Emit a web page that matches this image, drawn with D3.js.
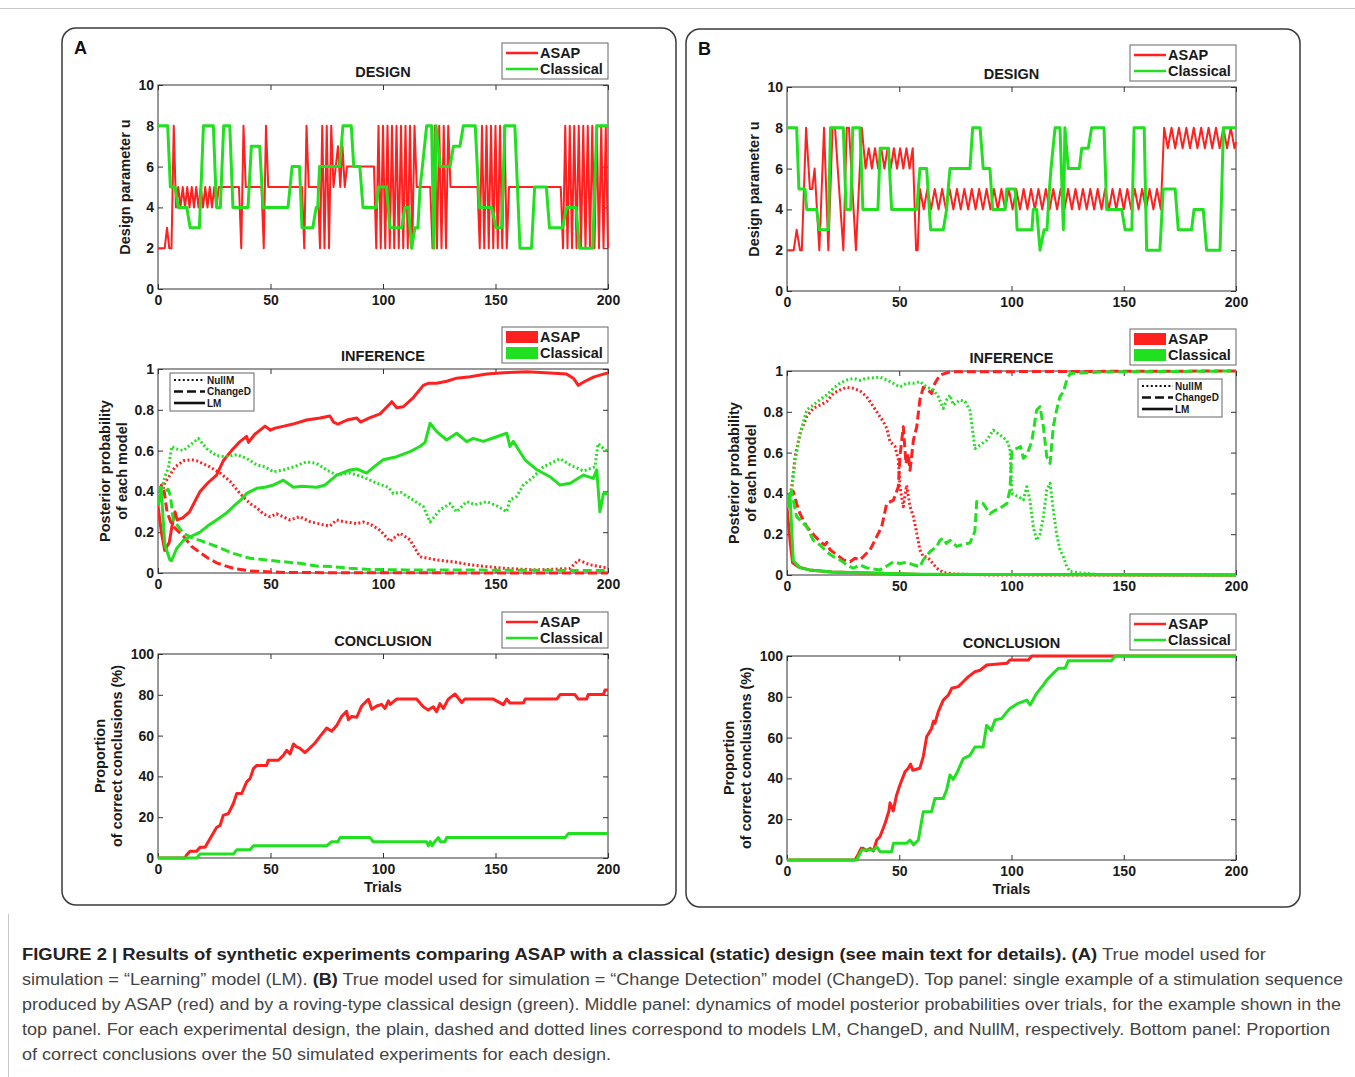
<!DOCTYPE html>
<html>
<head>
<meta charset="utf-8">
<script src="https://cdn.jsdelivr.net/npm/d3@7/dist/d3.min.js"></script>
<style>
  body { margin: 0; background: #fff; }
</style>
</head>
<body>
<script>
// ---------- data ----------
const trialTicks = [0, 50, 100, 150, 200];
const designTicks = [0, 2, 4, 6, 8, 10];
const inferTicks = [0, 0.2, 0.4, 0.6, 0.8, 1];
const conclTicks = [0, 20, 40, 60, 80, 100];
const seriesNames = ['ASAP', 'Classical'];
const modelNames = ['NullM', 'ChangeD', 'LM'];

// design parameter u per trial, [trial, u]
const designA_asap = [[0,2],[3,2],[4,3],[5,2],[6,2],[7,8],[8,4],[9,5],[10,4],[11,5],[12,4],[13,5],[14,4],[15,5],[16,4],[17,5],[18,4],[19,5],[20,4],[21,5],[22,4],[23,5],[24,4],[25,5],[26,4],[27,5],[36,5],[37,2],[38,8],[39,5],[46,5],[47,2],[48,8],[49,5],[64,5],[65,2],[66,8],[67,5],[71,5],[72,2],[73,8],[74,2],[75,8],[76,2],[77,8],[78,5],[79,6],[80,7],[81,5],[82,7],[83,5],[84,6],[96,6],
  [97,2],[98,8],[99,2],[100,8],[101,2],[102,8],[103,2],[104,8],[105,2],[106,8],[107,2],[108,8],[109,2],[110,8],[111,2],[112,8],[113,2],[114,8],[115,5],[121,5],
  [122,2],[123,8],[124,2],[125,8],[126,2],[127,8],[128,2],[129,8],[130,5],[142,5],
  [143,2],[144,8],[145,2],[146,8],[147,2],[148,8],[149,2],[150,8],[151,2],[152,8],[153,2],[154,8],[155,2],[156,5],[179,5],
  [180,2],[181,8],[182,2],[183,8],[184,2],[185,8],[186,2],[187,8],[188,2],[189,8],[190,2],[191,8],[192,2],[193,8],[194,2],[195,8],[196,2],[197,8],[198,2],[199,8],[200,2]];
const designA_classical = [[0,8],[4.3,8],[5.5,5],[7.6,5],[9,4],[12.8,4],[14.3,3],[18.4,3],[20.2,8],[24.6,8],[26,4],[27.7,4],[29.2,8],[31.9,8],[33.3,4],[40,4],[41.5,7],[45.2,7],[46.7,4],[57.8,4],[59.6,6],[62.9,6],[64,3],[68.8,3],[70.3,4],[71,4],[71.8,6],[80.7,6],[82.2,8],[85.9,8],[87,6],[89.7,6],[91.1,4],[97,4],[98,5],[101.6,5],[103,3],[108.3,3],[109.8,4],[111.3,4],[112.7,2],[114.2,3],[115.5,3],[116.5,5],[117.5,6],[119.4,8],[121.6,8],[122.6,2],[123.6,8],[125.4,6],[129.8,6],[131.3,7],[134.2,7],[135.7,8],[141,8],[142.8,4],[148.3,4],[150.2,3],[152.7,3],[154.2,8],[158.6,8],[160.9,2],[166,2],[167.4,5],[172.6,5],[174,3],[179.8,3],[181.6,4],[185.8,4],[187.3,2],[193.2,2],[195,8],[200,8]];
const designB_asap = [[0,2],[3,2],[4.3,3],[5.8,2],[6.6,2],[8.5,8],[10.2,5],[11.2,5],[12.3,6],[14.4,2],[16.5,8],[18.4,2],[20.3,8],[21.4,8],[22.6,6],[25.1,2],[26.6,8],[27.6,8],[30.7,2],[33.3,8],
  [35,6],[36.4,7],[37.8,6],[39.2,7],[40.6,6],[42,7],[43.4,6],[44.8,7],[46.2,6],[47.6,7],[49,6],[50.4,7],[51.8,6],[53.2,7],[54.6,6],[56,7],[57.5,2],[58.2,2],
  [59.2,5],[60.9,4],[62.5,5],[64.2,4],[65.8,5],[67.5,4],[69.1,5],[70.8,4],[72.4,5],[74.1,4],[75.7,5],[77.4,4],[79,5],[80.7,4],[82.3,5],[84,4],[85.6,5],[87.3,4],[88.9,5],[90.6,4],[92.2,5],[93.9,4],[95.5,5],[97.2,4],[98.8,5],[100.5,4],[102.1,5],[103.8,4],[105.4,5],[107.1,4],[108.7,5],[110.4,4],[112,5],[113.7,4],[115.3,5],[117,4],[118.6,5],[120.3,4],[121.9,5],[123.6,4],[125.2,5],[126.9,4],[128.5,5],[130.2,4],[131.8,5],[133.5,4],[135.1,5],[136.8,4],[138.4,5],[140.1,4],[141.7,5],[143.4,4],[145,5],[146.7,4],[148.3,5],[150,4],[151.6,5],[153.3,4],[154.9,5],[156.6,4],[158.2,5],[159.9,4],[161.5,5],[163.2,4],[164.8,5],[166.5,4],
  [168,8],[169.6,7],[171.3,8],[172.9,7],[174.6,8],[176.2,7],[177.9,8],[179.5,7],[181.2,8],[182.8,7],[184.5,8],[186.1,7],[187.8,8],[189.4,7],[191.1,8],[192.7,7],[194.4,8],[196,7],[197.7,8],[199.3,7],[200,7.3]];
const designB_classical = [[0,8],[4.3,8],[5.3,5],[8,5],[8.8,4],[13.2,4],[14.4,3],[18.4,3],[19.4,8],[25.1,8],[26.3,4],[28.4,4],[29.3,8],[32.5,8],[33.8,4],[40.5,4],[41.5,7],[45.2,7],[46.6,4],[57.8,4],[59.2,6],[62.2,6],[64,3],[69.6,3],[71.1,4],[71.8,5],[72.6,6],[81.5,6],[82.7,8],[86,8],[87.4,6],[90.4,6],[91.6,4],[97.1,4],[97.9,5],[101.6,5],[102.5,3],[109.1,3],[109.7,4],[111.2,4],[112.7,2],[114.5,3],[115.8,3],[116.9,5],[117.6,6],[119.4,8],[121.6,8],[123.1,3],[123.8,8],[125.3,6],[130.2,6],[131.3,7],[134.2,7],[135.7,8],[141.2,8],[142.4,4],[149.1,4],[150.6,3],[153.6,3],[154.6,8],[159.1,8],[160.2,2],[166.1,2],[167.6,5],[172.9,5],[174.3,3],[180.2,3],[181.3,4],[185.4,4],[186.9,2],[192.9,2],[194.4,8],[200,8]];

// posterior probability of each model, [trial, p]
const inferA_asap_NullM = [[0,0.33],[3,0.44],[5.3,0.48],[7.6,0.52],[11.3,0.55],[15,0.555],[17.2,0.55],[23.1,0.52],[27.6,0.49],[32,0.45],[36.4,0.39],[40.9,0.34],[43.9,0.32],[46.8,0.29],[49.8,0.276],[52.7,0.29],[55.7,0.275],[58.7,0.26],[63,0.276],[67.5,0.252],[73.5,0.236],[76.4,0.23],[79.4,0.26],[82.4,0.252],[88.3,0.242],[91.3,0.25],[94.2,0.24],[98.7,0.21],[103.1,0.155],[107.6,0.195],[112,0.163],[116.4,0.08],[123.9,0.064],[131.3,0.055],[138.7,0.04],[153.6,0.023],[168.4,0.015],[183.2,0.022],[186.8,0.064],[192.1,0.04],[198,0.028],[200,0.025]];
const inferA_asap_ChangeD = [[0,0.33],[1.5,0.43],[2.5,0.42],[4,0.3],[6,0.24],[7.6,0.22],[11.3,0.18],[15,0.13],[18.7,0.1],[22,0.075],[26,0.05],[30,0.035],[33.5,0.023],[40.9,0.01],[55.7,0.003],[80,0.001],[200,0]];
const inferA_asap_LM = [[0,0.33],[1.5,0.2],[3,0.11],[5,0.15],[7,0.28],[7.6,0.3],[8.5,0.26],[11,0.27],[14,0.3],[18.7,0.4],[22,0.44],[26,0.48],[29,0.55],[32.7,0.6],[36,0.64],[39.4,0.67],[40.2,0.64],[43,0.68],[47.6,0.72],[50,0.7],[52,0.71],[56,0.72],[60,0.73],[66,0.75],[72,0.76],[76.4,0.77],[78,0.74],[80,0.73],[84,0.75],[88.3,0.76],[90,0.74],[94,0.76],[98.7,0.78],[103.1,0.83],[103.9,0.84],[106.1,0.81],[109,0.815],[113.5,0.86],[117.9,0.92],[120.1,0.93],[123.9,0.93],[128.3,0.94],[132.7,0.955],[138.7,0.962],[146.1,0.975],[153.6,0.982],[163.9,0.987],[174.2,0.98],[181.6,0.975],[184.6,0.955],[186.8,0.92],[189,0.935],[193.5,0.96],[197.9,0.975],[200,0.98]];
const inferA_classical_NullM = [[0,0.33],[3,0.47],[4.7,0.52],[6.1,0.62],[7.6,0.61],[11.3,0.6],[15.7,0.64],[17.9,0.66],[21.6,0.61],[26,0.575],[30,0.57],[35,0.58],[39.4,0.562],[43.9,0.53],[47.6,0.52],[51.3,0.496],[55.7,0.505],[60.2,0.52],[66,0.545],[70.5,0.537],[75,0.505],[79.4,0.48],[85.3,0.49],[91.3,0.47],[97.2,0.44],[102.4,0.42],[104.6,0.39],[108,0.395],[117.9,0.326],[120.9,0.25],[125.4,0.31],[129.8,0.34],[132.7,0.3],[137.2,0.35],[141,0.335],[146.1,0.35],[150.5,0.33],[155,0.3],[156.4,0.358],[159.4,0.375],[162.3,0.43],[166.8,0.47],[171.2,0.52],[178.7,0.56],[183.2,0.53],[189.1,0.5],[194.2,0.52],[195.6,0.635],[198,0.61],[200,0.595]];
const inferA_classical_ChangeD = [[0,0.33],[1,0.42],[3,0.4],[4.5,0.41],[5.5,0.38],[6.8,0.26],[11.3,0.195],[15.7,0.17],[18.7,0.16],[26,0.13],[33.5,0.096],[40.9,0.072],[48.3,0.064],[55.7,0.055],[63,0.048],[70.5,0.034],[77.9,0.031],[85.3,0.023],[92.7,0.018],[110,0.015],[150,0.014],[200,0.012]];
const inferA_classical_LM = [[0,0.33],[1.5,0.4],[3,0.14],[5.3,0.064],[6,0.06],[8.3,0.12],[11.3,0.16],[15.7,0.185],[18.7,0.2],[22,0.23],[26,0.26],[30,0.29],[33.5,0.326],[37,0.36],[39.4,0.39],[43.9,0.415],[47.6,0.42],[51,0.43],[55.7,0.455],[60.2,0.42],[64,0.425],[70.5,0.42],[74,0.43],[79.4,0.48],[85.3,0.505],[88.3,0.51],[92.7,0.49],[96,0.52],[100.1,0.555],[106.1,0.57],[112,0.595],[116.4,0.62],[118.7,0.64],[120.9,0.734],[123.9,0.693],[128.3,0.652],[132.7,0.685],[137.2,0.644],[140.1,0.66],[144.6,0.645],[150.5,0.668],[155,0.685],[156.4,0.62],[157.9,0.645],[163.1,0.555],[168.4,0.506],[174.2,0.472],[178.7,0.431],[183.2,0.44],[189.1,0.48],[193.5,0.464],[195,0.506],[196.4,0.3],[198,0.39],[200,0.39]];

const inferB_asap_NullM = [[0,0.33],[2.1,0.43],[3.6,0.58],[5.8,0.694],[8.8,0.776],[11.7,0.817],[14.7,0.833],[17.7,0.85],[20.6,0.89],[23.6,0.907],[26.6,0.92],[29.5,0.915],[32.5,0.903],[35.5,0.874],[38.5,0.825],[41.4,0.776],[42.9,0.752],[44.4,0.72],[45.9,0.654],[48.1,0.63],[49.6,0.564],[50.3,0.433],[51.8,0.335],[53.3,0.44],[54.8,0.335],[56.3,0.286],[57.8,0.205],[59.2,0.123],[60.7,0.09],[62.2,0.09],[63.7,0.074],[66.7,0.033],[69.6,0.012],[74.1,0.005],[90,0],[200,0]];
const inferB_asap_ChangeD = [[0,0.33],[1.5,0.4],[2.8,0.41],[4.3,0.35],[5.8,0.3],[8.8,0.237],[11.7,0.2],[14.7,0.163],[16.9,0.147],[17.7,0.16],[19.2,0.123],[22.1,0.1],[25.1,0.074],[28.1,0.065],[30.3,0.082],[32.5,0.074],[34.7,0.098],[37,0.123],[39.9,0.187],[42.2,0.237],[44.4,0.35],[47.4,0.367],[49.6,0.432],[50.3,0.58],[51.8,0.727],[53,0.546],[54,0.595],[54.8,0.513],[56.3,0.66],[57.8,0.727],[59.2,0.86],[60.7,0.92],[62.5,0.91],[64.4,0.89],[65.9,0.94],[68.1,0.98],[72.6,0.996],[200,1]];
const inferB_asap_LM = [[0,0.33],[1.5,0.15],[2.5,0.06],[5,0.04],[10,0.025],[20,0.015],[40,0.008],[60,0.003],[200,0]];
const inferB_classical_NullM = [[0,0.33],[2.1,0.42],[3.6,0.56],[5.8,0.69],[8.8,0.81],[11.7,0.833],[14.7,0.86],[17.7,0.882],[20.6,0.915],[23.6,0.94],[26.6,0.955],[29.5,0.964],[32.5,0.955],[35.5,0.964],[41.4,0.97],[45.9,0.948],[50.3,0.922],[53.3,0.94],[56.3,0.94],[59.2,0.948],[62.2,0.922],[65.2,0.907],[67.4,0.874],[69.6,0.817],[71.1,0.858],[72.6,0.882],[74.1,0.833],[77.1,0.858],[79.3,0.85],[81.5,0.808],[83.7,0.62],[86,0.637],[88.9,0.66],[91.9,0.71],[94.9,0.686],[97.9,0.66],[99.3,0.62],[100.2,0.4],[103,0.384],[105.3,0.368],[106.8,0.433],[108.2,0.368],[109.7,0.237],[111.2,0.17],[112.7,0.2],[114.2,0.286],[115.7,0.416],[117.2,0.45],[118.6,0.32],[120.1,0.2],[121.6,0.123],[123.1,0.09],[124.6,0.041],[126.1,0.017],[130.5,0.01],[140,0.002],[200,0]];
const inferB_classical_ChangeD = [[0,0.33],[2,0.41],[4.3,0.286],[5.8,0.27],[8.8,0.237],[11.7,0.17],[14.7,0.147],[17.7,0.114],[20.6,0.09],[23.6,0.074],[26.6,0.05],[29.5,0.033],[32.5,0.05],[35.5,0.035],[41.4,0.025],[44.4,0.044],[47.4,0.065],[50.3,0.056],[53.3,0.062],[56.3,0.05],[59.2,0.04],[60.7,0.074],[63.7,0.114],[66.7,0.14],[68.1,0.17],[69.6,0.18],[71,0.155],[72.6,0.17],[75.6,0.14],[78.5,0.15],[81.5,0.157],[83.7,0.214],[84.5,0.36],[87.4,0.35],[90.4,0.3],[92.7,0.317],[94.9,0.327],[97.9,0.35],[99.3,0.416],[100.2,0.613],[102.3,0.62],[104,0.63],[105.3,0.572],[106.8,0.588],[109,0.653],[111.2,0.808],[112.7,0.825],[114.2,0.727],[115.7,0.58],[117.2,0.547],[118.6,0.727],[120.1,0.808],[121.6,0.874],[123.1,0.898],[124.6,0.955],[126.1,0.988],[130.5,0.99],[140,0.995],[200,1]];
const inferB_classical_LM = [[0,0.33],[1.3,0.4],[2.8,0.07],[5.8,0.035],[10,0.025],[20,0.015],[40,0.008],[60,0.004],[200,0]];

// proportion of correct conclusions (%), [trial, %]
const conclA_asap = [[0,0],[12,0],[12.7,1.5],[14.2,3.3],[17.2,3.3],[18.7,5.3],[20.9,5.3],[23.1,9.4],[26.1,15.1],[27.6,16],[29,20.9],[31.3,21.8],[33.5,26.7],[35,31.6],[37.2,31.6],[39.4,37.3],[40.9,38.9],[42.4,43.8],[43.9,45.4],[48.3,45.4],[49,47.9],[53.5,47.9],[55.7,50.3],[57.2,52.8],[58.7,51],[60.2,55.9],[61.6,54.5],[63,53.9],[65.3,51.7],[67.5,53.9],[69.8,56.4],[72,59.6],[75,63.7],[77.2,62.1],[79.4,64.9],[81.6,69.4],[83.8,71.9],[84.6,67.8],[86.1,69.4],[88.3,69],[90.5,74.5],[92.7,77],[93.5,77.8],[95,72.9],[97.2,74.5],[99.4,75.3],[100.9,73.3],[102.4,77],[103.2,75.3],[106,77.9],[114.9,77.9],[117.9,74.1],[120.1,72.5],[122.4,74.1],[123.8,71.7],[125.3,75.7],[126.8,73.3],[129,77.9],[132,80.4],[135,76.2],[136.4,77.9],[149,77.9],[153.5,75.2],[155,77.9],[156.4,76],[162.4,76],[163.2,77.9],[177.2,77.9],[178.7,80.1],[185.3,80.1],[186.8,77.9],[190.5,77.9],[191.2,80.1],[197.9,80.1],[198.7,82.3],[200,82.3]];
const conclA_classical = [[0,0],[17.2,0],[18.7,2],[33.5,2],[35,4],[40.9,4],[42.4,6],[75,6],[77.2,8],[80,8],[80.9,10],[94.2,10],[95.7,8],[119.4,8],[120.1,6],[121,8],[121.8,6],[123,8],[124.6,10],[125.5,8],[127.5,8],[128.3,10],[180.9,10],[182.4,12],[200,12]];
const conclB_asap = [[0,0],[30.3,0],[31.8,3],[33,5.7],[34,5.7],[35.5,4.5],[37,5.7],[38.5,4.5],[40,9.8],[41.4,11.4],[43.7,18],[45.4,24],[45.9,28],[47.3,24],[48.8,31.8],[50.3,36.8],[52.6,43.3],[54,45],[55,47],[56,44],[59.2,45],[60.7,50.7],[62.2,60.4],[64.4,64.5],[65.2,68],[65.9,67],[67.4,72.7],[69.6,78.4],[71.9,80.9],[73.4,84.2],[76.3,85],[78.5,87.4],[80.8,89.9],[83.7,92.3],[86,93],[89,95.6],[97.9,96.4],[99.3,98],[107.5,98],[109,100],[200,100]];
const conclB_classical = [[0,0],[31,0],[33.3,4.9],[38.5,4.9],[40,6.5],[41.4,4.1],[46.6,4.1],[47.4,8.2],[53.3,8.2],[54.8,9.8],[56.3,7.4],[58.5,9.8],[60.7,23.7],[64.4,23.7],[65.9,30.2],[69.6,30.2],[71.1,34.3],[72.6,41.7],[74,39.5],[75.6,42.5],[78.5,49.7],[81.5,51.3],[83.7,55.4],[87.4,55.4],[88.9,66],[91,63.5],[92.7,68.7],[95.7,69.4],[97.5,72],[99.3,74.3],[103,76.8],[106.8,78.4],[108.3,76],[111.2,81.7],[114.2,85.8],[115.7,88.2],[118.6,91.5],[120.9,94],[123.9,94],[125.3,97.7],[144.6,97.7],[146.1,100],[200,100]];

const captionLines = [
  [['FIGURE 2 | Results of synthetic experiments comparing ASAP with a classical (static) design (see main text for details). (A)', true], [' True model used for', false]],
  [['simulation = \u201cLearning\u201d model (LM). ', false], ['(B)', true], [' True model used for simulation = \u201cChange Detection\u201d model (ChangeD). Top panel: single example of a stimulation sequence', false]],
  [['produced by ASAP (red) and by a roving-type classical design (green). Middle panel: dynamics of model posterior probabilities over trials, for the example shown in the', false]],
  [['top panel. For each experimental design, the plain, dashed and dotted lines correspond to models LM, ChangeD, and NullM, respectively. Bottom panel: Proportion', false]],
  [['of correct conclusions over the 50 simulated experiments for each design.', false]]
];

// ---------- layout ----------
const width = 1355, height = 1077;
const font = '"Liberation Sans", Arial, Helvetica, sans-serif';
const colors = { ASAP: '#ff2020', Classical: '#20e020' };
const dashes = { NullM: '2,2.4', ChangeD: '9,4', LM: null };

const panels = [
  { letter: 'A', frame: [62, 28, 614, 877], xr: [158, 608], design: [289, 85], infer: [573, 369], concl: [858, 654], modelLegend: 'left',
    design_s: [designA_asap, designA_classical],
    infer_s: [[inferA_asap_NullM, inferA_asap_ChangeD, inferA_asap_LM], [inferA_classical_NullM, inferA_classical_ChangeD, inferA_classical_LM]],
    concl_s: [conclA_asap, conclA_classical] },
  { letter: 'B', frame: [686, 29, 614, 878], xr: [787, 1236], design: [291, 87], infer: [575, 371], concl: [860, 656], modelLegend: 'right',
    design_s: [designB_asap, designB_classical],
    infer_s: [[inferB_asap_NullM, inferB_asap_ChangeD, inferB_asap_LM], [inferB_classical_NullM, inferB_classical_ChangeD, inferB_classical_LM]],
    concl_s: [conclB_asap, conclB_classical] }
];

const svg = d3.select('body').append('svg')
  .attr('width', width).attr('height', height)
  .style('font-family', font);

// page rules
svg.append('line').attr('x1', 0).attr('x2', width).attr('y1', 8.5).attr('y2', 8.5).attr('stroke', '#c8c8c8');
svg.append('line').attr('x1', 8.5).attr('x2', 8.5).attr('y1', 914).attr('y2', height).attr('stroke', '#c8c8c8');

function styleAxis(g) {
  g.select('.domain').remove();
  g.attr('font-family', font).attr('font-size', 14).attr('font-weight', 'bold');
  g.selectAll('.tick line').attr('stroke', '#333');
  g.selectAll('.tick text').attr('fill', '#1a1a1a');
}

let clipN = 0;
function makePlot(g, xr, yr, domain, ticks, fmt) {
  const x = d3.scaleLinear().domain([0, 200]).range(xr);
  const y = d3.scaleLinear().domain(domain).range(yr);
  g.append('rect').attr('x', xr[0]).attr('y', yr[1]).attr('width', xr[1] - xr[0]).attr('height', yr[0] - yr[1])
    .attr('fill', '#fff').attr('stroke', '#333').attr('stroke-width', 1);
  g.append('g').attr('transform', `translate(0,${yr[0]})`)
    .call(d3.axisBottom(x).tickValues(trialTicks).tickSizeInner(-5).tickSizeOuter(0).tickPadding(6)).call(styleAxis);
  g.append('g').attr('transform', `translate(0,${yr[1]})`)
    .call(d3.axisTop(x).tickValues(trialTicks).tickSizeInner(-5).tickSizeOuter(0).tickFormat('')).call(styleAxis);
  g.append('g').attr('transform', `translate(${xr[0]},0)`)
    .call(d3.axisLeft(y).tickValues(ticks).tickFormat(fmt).tickSizeInner(-5).tickSizeOuter(0).tickPadding(4)).call(styleAxis);
  g.append('g').attr('transform', `translate(${xr[1]},0)`)
    .call(d3.axisRight(y).tickValues(ticks).tickSizeInner(-5).tickSizeOuter(0).tickFormat('')).call(styleAxis);
  const id = 'clip' + (clipN++);
  svg.append('clipPath').attr('id', id).append('rect')
    .attr('x', xr[0]).attr('y', yr[1] - 2).attr('width', xr[1] - xr[0] + 1).attr('height', yr[0] - yr[1] + 4);
  const layer = g.append('g').attr('clip-path', `url(#${id})`);
  return { x, y, layer };
}

function drawLine(p, pts, color, w, dash) {
  p.layer.append('path').datum(pts)
    .attr('d', d3.line().x(d => p.x(d[0])).y(d => p.y(d[1])))
    .attr('fill', 'none').attr('stroke', color).attr('stroke-width', w)
    .attr('stroke-linejoin', 'round').attr('stroke-dasharray', dash);
}

function title(g, xr, top, txt) {
  g.append('text').attr('x', (xr[0] + xr[1]) / 2).attr('y', top - 8)
    .attr('text-anchor', 'middle').attr('font-size', 14.5).attr('font-weight', 'bold').attr('fill', '#1a1a1a').text(txt);
}

function ylabel(g, xr, yr, lines, offs) {
  const cy = (yr[0] + yr[1]) / 2;
  lines.forEach((t, i) => {
    g.append('text').attr('transform', `translate(${xr[0] + offs[i]},${cy}) rotate(-90)`)
      .attr('text-anchor', 'middle').attr('font-size', 14.5).attr('font-weight', 'bold').attr('fill', '#1a1a1a').text(t);
  });
}

function seriesLegend(g, xr, top, swatch) {
  const bx = xr[1] - 106, by = top - 42;
  g.append('rect').attr('x', bx).attr('y', by).attr('width', 106).attr('height', 36)
    .attr('fill', '#fff').attr('stroke', '#666');
  seriesNames.forEach((s, i) => {
    const cy = by + 10 + i * 16;
    if (swatch === 'line') {
      g.append('line').attr('x1', bx + 4).attr('x2', bx + 36).attr('y1', cy).attr('y2', cy)
        .attr('stroke', colors[s]).attr('stroke-width', 2.5);
    } else {
      g.append('rect').attr('x', bx + 4).attr('y', cy - 6).attr('width', 32).attr('height', 12).attr('fill', colors[s]);
    }
    g.append('text').attr('x', bx + 38).attr('y', cy + 5).attr('font-size', 14.5).attr('font-weight', 'bold')
      .attr('fill', '#1a1a1a').text(s);
  });
}

function modelLegend(g, xr, top, side) {
  const bx = side === 'left' ? xr[0] + 12 : xr[1] - 98, by = side === 'left' ? top + 4 : top + 8;
  g.append('rect').attr('x', bx).attr('y', by).attr('width', 84).attr('height', 38)
    .attr('fill', '#fff').attr('stroke', '#666');
  modelNames.forEach((m, i) => {
    const cy = by + 7 + i * 11.5;
    g.append('line').attr('x1', bx + 4).attr('x2', bx + 35).attr('y1', cy).attr('y2', cy)
      .attr('stroke', '#111').attr('stroke-width', m === 'NullM' ? 1.8 : 2.6).attr('stroke-dasharray', dashes[m]);
    g.append('text').attr('x', bx + 37).attr('y', cy + 3.5).attr('font-size', 10).attr('font-weight', 'bold')
      .attr('fill', '#1a1a1a').text(m);
  });
}

panels.forEach(P => {
  const g = svg.append('g');
  const [fx, fy, fw, fh] = P.frame;
  g.append('rect').attr('x', fx).attr('y', fy).attr('width', fw).attr('height', fh).attr('rx', 14)
    .attr('fill', 'none').attr('stroke', '#3a3a3a').attr('stroke-width', 1.5);
  g.append('text').attr('x', fx + 12).attr('y', fy + 26).attr('font-size', 18).attr('font-weight', 'bold')
    .attr('fill', '#111').text(P.letter);

  // DESIGN
  title(g, P.xr, P.design[1], 'DESIGN');
  const pd = makePlot(g, P.xr, P.design, [0, 10], designTicks, d3.format('d'));
  drawLine(pd, P.design_s[0], colors.ASAP, 2, null);
  drawLine(pd, P.design_s[1], colors.Classical, 3, null);
  ylabel(g, P.xr, P.design, ['Design parameter u'], [-28]);
  seriesLegend(g, P.xr, P.design[1], 'line');

  // INFERENCE
  title(g, P.xr, P.infer[1], 'INFERENCE');
  const pi = makePlot(g, P.xr, P.infer, [0, 1], inferTicks, d => (d === 0 || d === 1) ? d3.format('d')(d) : d3.format('.1f')(d));
  P.infer_s.forEach((set, si) => {
    set.forEach((pts, mi) => drawLine(pi, pts, colors[seriesNames[si]], 3, dashes[modelNames[mi]]));
  });
  ylabel(g, P.xr, P.infer, ['Posterior probability', 'of each model'], [-48, -31]);
  seriesLegend(g, P.xr, P.infer[1], 'patch');
  modelLegend(g, P.xr, P.infer[1], P.modelLegend);

  // CONCLUSION
  title(g, P.xr, P.concl[1], 'CONCLUSION');
  const pc = makePlot(g, P.xr, P.concl, [0, 100], conclTicks, d3.format('d'));
  drawLine(pc, P.concl_s[0], colors.ASAP, 3, null);
  drawLine(pc, P.concl_s[1], colors.Classical, 3, null);
  ylabel(g, P.xr, P.concl, ['Proportion', 'of correct conclusions (%)'], [-53, -36]);
  seriesLegend(g, P.xr, P.concl[1], 'line');
  g.append('text').attr('x', (P.xr[0] + P.xr[1]) / 2).attr('y', P.concl[0] + 34)
    .attr('text-anchor', 'middle').attr('font-size', 14.5).attr('font-weight', 'bold').attr('fill', '#1a1a1a').text('Trials');
});

// caption
const lineWidths = [1244, 1321, 1319, 1308, 589];
captionLines.forEach((segs, i) => {
  const t = svg.append('text').attr('x', 22).attr('y', 960 + i * 25)
    .attr('font-size', 16).attr('fill', '#444')
    .attr('textLength', lineWidths[i]).attr('lengthAdjust', 'spacingAndGlyphs');
  segs.forEach(([s, b]) => {
    t.append('tspan').attr('font-weight', b ? 'bold' : 'normal').attr('fill', b ? '#222' : '#444').text(s);
  });
});
</script>
</body>
</html>
